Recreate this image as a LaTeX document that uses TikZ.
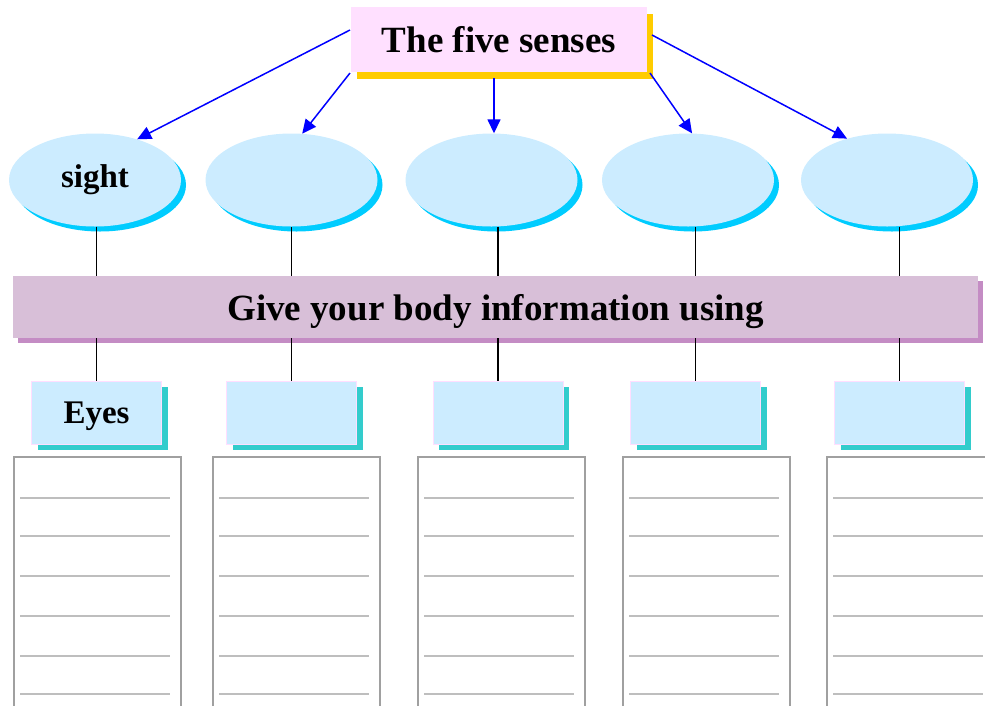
\documentclass[tikz,border=0pt]{standalone}
\usepackage{fontspec}
\setmainfont{Liberation Serif}
\usetikzlibrary{shapes.geometric,shadows,arrows.meta,calc}
\definecolor{titlefill}{RGB}{255,224,255}
\definecolor{titleshadow}{RGB}{255,204,0}
\definecolor{ellfill}{RGB}{204,236,255}
\definecolor{ellshadow}{RGB}{0,204,255}
\definecolor{barfill}{RGB}{216,191,216}
\definecolor{barshadow}{RGB}{196,140,196}
\definecolor{boxfill}{RGB}{204,236,255}
\definecolor{boxborder}{RGB}{255,222,255}
\definecolor{boxshadow}{RGB}{51,204,204}
\definecolor{tallborder}{RGB}{160,160,160}
\definecolor{ruleline}{RGB}{190,190,190}
\definecolor{arrblue}{RGB}{0,0,255}
\tikzset{
  titlebox/.style={rectangle, fill=titlefill, minimum width=296pt, minimum height=65pt, inner sep=0pt,
    font=\fontsize{37}{40}\selectfont\bfseries,
    drop shadow={shadow xshift=6pt, shadow yshift=-7pt, fill=titleshadow, opacity=1}},
  sense/.style={ellipse, fill=ellfill, minimum width=172pt, minimum height=93pt, inner sep=0pt,
    font=\fontsize{33}{36}\selectfont\bfseries,
    drop shadow={shadow xshift=5pt, shadow yshift=-5pt, fill=ellshadow, opacity=1}},
  barbox/.style={rectangle, fill=barfill, minimum width=965pt, minimum height=62pt, inner sep=0pt,
    text depth=0pt, font=\fontsize{37}{40}\selectfont\bfseries,
    drop shadow={shadow xshift=5pt, shadow yshift=-5pt, fill=barshadow, opacity=1}},
  organ/.style={rectangle, fill=boxfill, draw=boxborder, line width=1pt, minimum width=130pt, minimum height=63pt, inner sep=0pt,
    text depth=0pt, font=\fontsize{33}{36}\selectfont\bfseries,
    drop shadow={shadow xshift=6pt, shadow yshift=-5pt, fill=boxshadow, opacity=1}},
  tallbox/.style={rectangle, draw=tallborder, line width=1.5pt, minimum width=167pt, minimum height=300pt, inner sep=0pt, anchor=north west},
  rule/.style={draw=ruleline, line width=1.5pt},
  arr/.style={draw=arrblue, line width=1.5pt, -{Triangle[length=14pt,width=13pt]}},
  link/.style={draw=black, line width=1.7pt}
}
\begin{document}
\begin{tikzpicture}[x=1pt,y=-1pt]
\useasboundingbox (0,0) rectangle (985,705);
\clip (0,0) rectangle (985,705);

% title
\node[titlebox] (title) at (499,39.5) {The five senses};

% senses
\node[sense] (e1) at (95,180) {sight};
\node[sense] (e2) at (291.5,180) {};
\node[sense] (e3) at (491.5,180) {};
\node[sense] (e4) at (688,180) {};
\node[sense] (e5) at (887,180) {};

% arrow start points on the title box
\coordinate (s1) at (350,30);
\coordinate (s2) at (350,73);
\coordinate (s3) at (494,78);
\coordinate (s4) at (650,73);
\coordinate (s5) at (652,35);

\draw[arr] (s1) -- (e1.44);
\draw[arr] (s2) -- (e2.77);
\draw[arr] (s3) -- (s3 |- e3.north);
\draw[arr] (s4) -- (e4.85);
\draw[arr] (s5) -- (e5.134);

% bar
\node[barbox] (bar) at (495.5,307) {Give your body information using};

% organ boxes
\node[organ] (b1) at (96.5,413) {Eyes};
\node[organ] (b2) at (291.5,413) {};
\node[organ] (b3) at (498,413) {};
\node[organ] (b4) at (695.5,413) {};
\node[organ] (b5) at (899.5,413) {};

% connectors
\foreach \i in {1,...,5}{
  \draw[link] (e\i.south -| b\i.north) -- (bar.north -| b\i.north);
  \draw[link] (bar.south -| b\i.north) -- (b\i.north);
}

% lined boxes
\foreach \i/\xl in {1/13,2/212,3/417,4/622,5/826}{
  \node[tallbox] (t\i) at (\xl,456) {};
  \foreach \dy in {42,80,120,160,200,238}{
    \draw[rule] ($(t\i.north west)+(7,\dy)$) -- ($(t\i.north west)+(157,\dy)$);
  }
}
\end{tikzpicture}
\end{document}
